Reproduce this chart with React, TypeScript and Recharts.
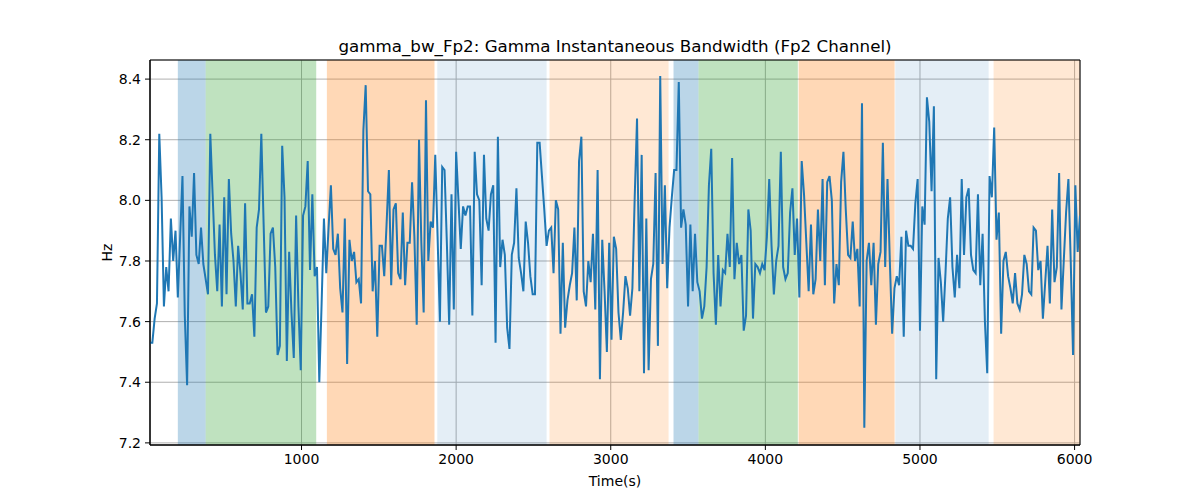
import React from 'react';
import { ComposedChart, Line, XAxis, YAxis, CartesianGrid, ReferenceArea } from 'recharts';

// samples every 15 s, starting at t = 20 s
const START = 20;
const STEP = 15;

// bandwidth values (Hz), read off in chunks of roughly 1000 s
const part1 = [7.53, 7.53, 7.61, 7.66, 8.22, 8.01, 7.65, 7.78, 7.70, 7.94, 7.80, 7.90, 7.68, 7.88, 8.08, 7.62, 7.39, 7.98, 7.88, 8.09, 7.82, 7.79, 7.91, 7.79, 7.74, 7.69, 8.22, 8.02, 7.82, 7.70, 7.92, 7.65, 8.01, 7.69, 8.07, 7.89, 7.80, 7.65, 7.85, 7.76, 7.64, 7.99, 7.66, 7.66, 7.69, 7.55, 7.91, 7.97, 8.22, 7.92, 7.63, 7.65, 7.89, 7.91, 7.78, 7.49, 7.52, 8.18, 8.01, 7.47, 7.83, 7.63, 7.48, 7.95, 7.65, 7.44, 7.95];
const part2 = [7.98, 8.13, 7.77, 8.02, 7.75, 7.78, 7.40, 7.66, 7.94, 7.76, 7.91, 8.05, 7.84, 7.82, 7.89, 7.71, 7.63, 7.94, 7.46, 7.87, 7.80, 7.83, 7.73, 7.74, 7.66, 8.23, 8.38, 8.03, 8.02, 7.70, 7.80, 7.55, 7.85, 7.85, 7.75, 7.92, 8.10, 7.72, 7.97, 7.99, 7.76, 7.74, 7.96, 7.72, 7.86, 7.86, 8.06, 7.88, 7.59, 8.20, 7.86, 7.63, 8.33, 7.80, 7.93, 7.91, 8.15, 7.88, 7.60, 8.11, 8.10, 7.86, 7.59, 8.02, 7.64, 8.16];
const part3 = [8.00, 7.84, 7.98, 7.95, 7.98, 7.98, 7.62, 8.16, 8.02, 8.00, 7.72, 8.15, 7.94, 7.90, 8.02, 8.05, 7.53, 8.21, 7.78, 7.87, 7.82, 7.58, 7.51, 7.82, 7.86, 8.04, 7.81, 7.76, 7.70, 7.93, 7.86, 7.75, 7.69, 7.69, 8.19, 8.19, 8.08, 7.97, 7.85, 7.90, 7.91, 7.76, 8.00, 7.97, 7.56, 7.86, 7.58, 7.67, 7.72, 7.76, 7.91, 7.67, 8.13, 8.21, 7.70, 7.65, 7.80, 7.73, 7.89, 7.64, 8.10, 7.41, 7.87, 7.70, 7.50, 7.86, 7.54, 7.88];
const part4 = [7.84, 7.63, 7.54, 7.63, 7.75, 7.71, 7.62, 7.71, 8.01, 8.27, 7.70, 8.15, 7.43, 7.94, 7.44, 7.74, 7.79, 8.09, 7.52, 8.41, 7.79, 8.05, 7.71, 7.91, 8.01, 8.10, 8.10, 8.39, 7.91, 7.97, 7.92, 7.65, 7.92, 7.70, 7.89, 7.73, 7.70, 7.61, 7.65, 7.78, 8.05, 8.17, 7.76, 7.59, 7.82, 7.65, 7.77, 7.76, 7.89, 7.78, 8.14, 7.74, 7.86, 7.79, 7.82, 7.57, 7.62, 7.97, 7.90, 7.61, 7.79, 7.78, 7.76, 7.79, 7.77, 7.88, 8.07];
const part5 = [7.85, 7.69, 7.80, 7.85, 8.16, 7.78, 7.74, 7.76, 7.96, 8.04, 7.82, 7.94, 7.68, 8.13, 8.02, 7.86, 7.70, 7.92, 7.69, 7.74, 7.97, 7.80, 8.07, 7.72, 8.06, 8.08, 8.00, 7.66, 7.79, 7.72, 8.06, 8.16, 7.97, 7.82, 7.81, 7.93, 7.80, 7.84, 7.65, 8.32, 7.25, 7.80, 7.86, 7.72, 7.86, 7.59, 7.79, 7.83, 8.19, 7.78, 8.07, 7.80, 7.56, 7.71, 7.75, 7.72, 7.88, 7.55, 7.90, 7.85, 7.85, 7.84, 7.99, 8.07, 7.57, 7.98, 7.92];
const part6 = [8.34, 8.26, 8.03, 8.31, 7.41, 7.81, 7.73, 7.60, 7.76, 7.94, 8.01, 7.78, 7.68, 7.82, 7.71, 8.07, 7.82, 8.01, 8.04, 7.82, 7.77, 7.76, 8.02, 7.72, 7.89, 7.60, 7.43, 8.08, 8.01, 8.24, 7.87, 7.96, 7.56, 7.80, 7.83, 7.75, 7.71, 7.66, 7.76, 7.66, 7.64, 7.69, 7.82, 7.79, 7.70, 7.69, 7.91, 7.90, 7.77, 7.80, 7.61, 7.73, 7.85, 7.66, 7.97, 7.73, 7.78, 8.09, 7.64, 7.80, 7.96, 8.07, 7.80, 7.49, 8.05, 7.83, 7.95];

const values = [...part1, ...part2, ...part3, ...part4, ...part5, ...part6];
const data = values.map((hz, i) => ({ t: START + i * STEP, hz }));
const T_END = START + (values.length - 1) * STEP;

// shaded stages
const stages = [
  { from: 200, to: 380, kind: 'a' },
  { from: 380, to: 1095, kind: 'b' },
  { from: 1164, to: 1860, kind: 'c' },
  { from: 1878, to: 2585, kind: 'd' },
  { from: 2604, to: 3374, kind: 'e' },
  { from: 3406, to: 3568, kind: 'a' },
  { from: 3568, to: 4210, kind: 'b' },
  { from: 4215, to: 4836, kind: 'c' },
  { from: 4840, to: 5444, kind: 'd' },
  { from: 5476, to: T_END, kind: 'e' },
];

const xTicks = [1000, 2000, 3000, 4000, 5000, 6000];
const yTicks = [7.2, 7.4, 7.6, 7.8, 8.0, 8.2, 8.4];

const stageStyle: Record<string, { fill: string; opacity: number }> = {
  a: { fill: '#1f77b4', opacity: 0.3 },
  b: { fill: '#2ca02c', opacity: 0.3 },
  c: { fill: '#ff7f0e', opacity: 0.3 },
  d: { fill: '#1f77b4', opacity: 0.12 },
  e: { fill: '#ff7f0e', opacity: 0.18 },
};

const font = '"DejaVu Sans", sans-serif';
const Y_MIN = 7.193;
const Y_MAX = 8.463;

export default function App() {
  return (
    <div style={{ position: 'absolute', left: 0, top: 0, width: 1200, height: 500, background: '#fff', fontFamily: font }}>
      <ComposedChart width={1200} height={500} data={data} margin={{ top: 60, right: 120, bottom: 25, left: 90 }}>
        <CartesianGrid stroke="#b0b0b0" strokeWidth={1} />
        {stages.map((s, i) => (
          <ReferenceArea
            key={i}
            x1={s.from}
            x2={s.to}
            fill={stageStyle[s.kind].fill}
            fillOpacity={stageStyle[s.kind].opacity}
            stroke="none"
          />
        ))}
        <XAxis
          dataKey="t"
          type="number"
          domain={[START, T_END]}
          ticks={xTicks}
          allowDataOverflow
          height={30}
          tickSize={5}
          tickMargin={4}
          stroke="#000"
          tick={{ fill: '#000', fontSize: 14, fontFamily: font }}
          label={{ value: 'Time(s)', position: 'insideBottom', offset: -11, fill: '#000', fontSize: 14, fontFamily: font }}
        />
        <YAxis
          type="number"
          domain={[Y_MIN, Y_MAX]}
          ticks={yTicks}
          allowDataOverflow
          width={60}
          tickSize={5}
          tickMargin={4}
          stroke="#000"
          tickFormatter={(v: number) => v.toFixed(1)}
          tick={{ fill: '#000', fontSize: 14, fontFamily: font }}
          label={{
            content: (p: any) => {
              const vb = p.viewBox || { x: 90, y: 60, height: 385 };
              const cx = vb.x + 17;
              const cy = vb.y + vb.height / 2;
              return (
                <text x={cx} y={cy} transform={`rotate(-90 ${cx} ${cy})`} textAnchor="middle" dominantBaseline="central" fontSize={14} fontFamily={font} fill="#000">
                  Hz
                </text>
              );
            },
          }}
        />
        <Line type="linear" dataKey="hz" stroke="#1f77b4" strokeWidth={2} dot={false} isAnimationActive={false} />
        {/* axes frame */}
        <ReferenceArea x1={START} x2={T_END} y1={Y_MIN} y2={Y_MAX} fill="none" stroke="#000" strokeWidth={1} />
      </ComposedChart>
      <svg width={1200} height={70} style={{ position: 'absolute', left: 0, top: 0, pointerEvents: 'none' }}>
        <text x={615} y={52} textAnchor="middle" fontSize={16.7} fontFamily={font} fill="#000">
          gamma_bw_Fp2: Gamma Instantaneous Bandwidth (Fp2 Channel)
        </text>
      </svg>
    </div>
  );
}
